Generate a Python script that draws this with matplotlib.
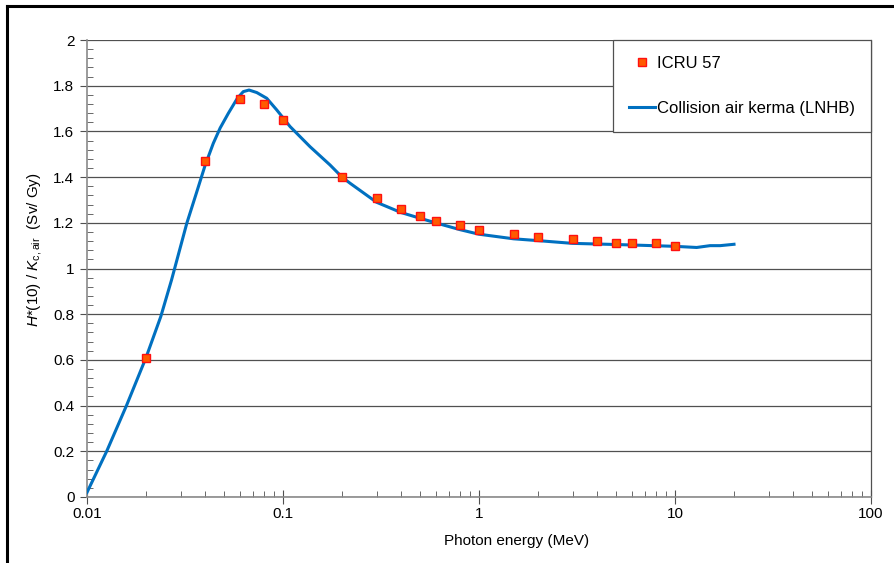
import numpy as np
import matplotlib.pyplot as plt
from matplotlib.lines import Line2D
from matplotlib.ticker import FixedLocator, NullFormatter, MultipleLocator

plt.rcParams['font.family'] = ['Liberation Sans', 'DejaVu Sans']
plt.rcParams['mathtext.fontset'] = 'custom'
plt.rcParams['mathtext.rm'] = 'Liberation Sans'
plt.rcParams['mathtext.it'] = 'Liberation Sans:italic'

# ICRU 57 conversion coefficients
icru_energy = [0.02, 0.04, 0.06, 0.08, 0.1, 0.2, 0.3, 0.4, 0.5, 0.6, 0.8,
               1, 1.5, 2, 3, 4, 5, 6, 8, 10]
icru_ratio = [0.61, 1.47, 1.74, 1.72, 1.65, 1.40, 1.31, 1.26, 1.23, 1.21, 1.19,
              1.17, 1.15, 1.14, 1.13, 1.12, 1.11, 1.11, 1.11, 1.10]

# collision air kerma curve (LNHB)
lnhb_energy = [0.01, 0.0126, 0.0159, 0.02, 0.0238, 0.027, 0.0323, 0.0363,
               0.040, 0.0441, 0.0478, 0.0526, 0.0585, 0.0627, 0.0671, 0.0735,
               0.0826, 0.0929, 0.1087, 0.1374, 0.1738, 0.2, 0.22, 0.3, 0.4,
               0.5, 0.6, 0.8, 1, 1.5, 2, 3, 5, 10, 12.9, 15.1, 17, 20]
lnhb_ratio = [0.02, 0.20, 0.40, 0.61, 0.79, 0.95, 1.198, 1.335,
              1.45, 1.548, 1.615, 1.679, 1.745, 1.774, 1.781, 1.770,
              1.745, 1.694, 1.621, 1.533, 1.453, 1.40, 1.373, 1.29, 1.245,
              1.22, 1.20, 1.17, 1.15, 1.13, 1.122, 1.11, 1.105, 1.097, 1.092,
              1.10, 1.10, 1.106]

x_ticks = [0.01, 0.1, 1, 10, 100]
x_labels = ['0.01', '0.1', '1', '10', '100']
y_ticks = [0, 0.2, 0.4, 0.6, 0.8, 1, 1.2, 1.4, 1.6, 1.8, 2]
y_labels = ['0', '0.2', '0.4', '0.6', '0.8', '1', '1.2', '1.4', '1.6', '1.8', '2']

fig = plt.figure(figsize=(8.95, 5.63), dpi=100)
ax = fig.add_axes([87/895, 66/563, 784/895, 457/563])

ax.plot(lnhb_energy, lnhb_ratio, color='#0070C0', lw=2.2,
        label='Collision air kerma (LNHB)', zorder=3)
ax.plot(icru_energy, icru_ratio, ls='none', marker='s', ms=6,
        mfc='#FF5A00', mec='#FF1010', mew=1, label='ICRU 57', zorder=4)

ax.set_xscale('log')
ax.set_xlim(0.01, 100)
ax.set_ylim(0, 2)

ax.xaxis.set_major_locator(FixedLocator(x_ticks))
ax.set_xticklabels(x_labels)
minors = [m * 10.0**d for d in range(-2, 2) for m in range(2, 10)]
ax.xaxis.set_minor_locator(FixedLocator(minors))
ax.xaxis.set_minor_formatter(NullFormatter())
ax.set_yticks(y_ticks)
ax.set_yticklabels(y_labels)
ax.yaxis.set_minor_locator(MultipleLocator(0.04))

ax.grid(axis='y', which='major', color='#505050', lw=0.9)
ax.set_axisbelow(True)

for s in ['left', 'bottom']:
    ax.spines[s].set_color('#8a8a8a')
    ax.spines[s].set_linewidth(1.2)
ax.spines['right'].set_color('#505050')
ax.spines['right'].set_linewidth(0.9)
ax.spines['top'].set_visible(False)

ax.tick_params(axis='x', which='major', direction='inout', length=10,
               color='#505050', labelsize=11, pad=2)
ax.tick_params(axis='x', which='minor', direction='in', length=4, color='#505050')
ax.tick_params(axis='y', which='major', direction='out', length=5,
               color='#505050', labelsize=11, pad=4)
ax.tick_params(axis='y', which='minor', direction='in', length=4, color='#505050')

# legend: marker entry first, line entry below
handles, labels = ax.get_legend_handles_labels()
leg = ax.legend(handles[::-1], labels[::-1], loc='upper right',
                bbox_to_anchor=(1, 1), borderaxespad=0, fontsize=12,
                frameon=True, fancybox=False, edgecolor='#505050',
                framealpha=1, borderpad=0.95, labelspacing=1.8,
                handlelength=1.6, handletextpad=0.1)
leg.get_frame().set_linewidth(0.9)

fig.text(517/895, 1 - 541/563, 'Photon energy (MeV)', ha='center', va='center',
         fontsize=11)
fig.text(35/895, 1 - 250/563, r'$H$*(10) / $K_{\rm c,air}$  (Sv/ Gy)',
         rotation=90, ha='center', va='center', fontsize=11)

# outer frame (left and top edges)
fig.add_artist(Line2D([7/895, 7/895], [0, 1 - 6/563], color='black', lw=2.2,
                      transform=fig.transFigure))
fig.add_artist(Line2D([7/895, 1], [1 - 6/563, 1 - 6/563], color='black', lw=2.2,
                      transform=fig.transFigure))

fig.savefig('out.png', dpi=100)
